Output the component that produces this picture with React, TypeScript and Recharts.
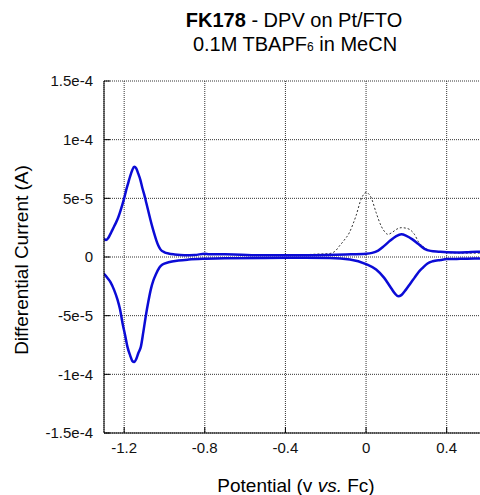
import React from "react";
import { LineChart, Line, XAxis, YAxis, CartesianGrid } from "recharts";

// Forward scan (upper blue trace)
const FWD_X = [-1.3, -1.29, -1.28, -1.27, -1.26, -1.25, -1.24, -1.23, -1.22, -1.21, -1.2, -1.19, -1.18, -1.17, -1.16, -1.15, -1.14, -1.13, -1.12, -1.11, -1.1, -1.09, -1.08, -1.07, -1.06, -1.05, -1.04, -1.03, -1.02, -1.0, -0.98, -0.95, -0.9, -0.85, -0.8, -0.78, -0.7, -0.62, -0.55, -0.4, -0.2, -0.1, 0.0, 0.03, 0.06, 0.09, 0.12, 0.15, 0.175, 0.2, 0.23, 0.26, 0.29, 0.32, 0.36, 0.4, 0.45, 0.5, 0.55, 0.6];
const FWD_Y = [1.55e-5, 1.45e-5, 1.6e-5, 1.9e-5, 2.25e-5, 2.6e-5, 2.95e-5, 3.35e-5, 3.85e-5, 4.4e-5, 5.0e-5, 5.7e-5, 6.3e-5, 6.9e-5, 7.4e-5, 7.7e-5, 7.55e-5, 7.1e-5, 6.6e-5, 5.9e-5, 5.3e-5, 4.6e-5, 3.9e-5, 3.2e-5, 2.55e-5, 1.95e-5, 1.4e-5, 9.5e-6, 6.5e-6, 4.0e-6, 3.0e-6, 2.2e-6, 1.5e-6, 1.7e-6, 2.8e-6, 2.4e-6, 2.3e-6, 2.0e-6, 1.5e-6, 1.4e-6, 1.8e-6, 2.2e-6, 2.8e-6, 3.5e-6, 5.5e-6, 9.5e-6, 1.4e-5, 1.78e-5, 1.93e-5, 1.8e-5, 1.5e-5, 1.1e-5, 7.0e-6, 5.2e-6, 4.5e-6, 4.0e-6, 3.9e-6, 4.1e-6, 4.5e-6, 4.5e-6];

// Reverse scan (lower blue trace)
const REV_X = [-1.31, -1.3, -1.28, -1.266, -1.25, -1.233, -1.22, -1.208, -1.195, -1.184, -1.17, -1.16, -1.15, -1.14, -1.13, -1.117, -1.105, -1.093, -1.08, -1.068, -1.055, -1.043, -1.025, -1.01, -0.98, -0.93, -0.88, -0.8, -0.7, -0.5, -0.3, -0.18, -0.08, 0.0, 0.05, 0.09, 0.124, 0.145, 0.16, 0.175, 0.198, 0.22, 0.24, 0.26, 0.281, 0.305, 0.331, 0.37, 0.4, 0.45, 0.5, 0.6];
const REV_Y = [-1.3e-5, -1.45e-5, -1.85e-5, -2.2e-5, -2.8e-5, -3.64e-5, -4.5e-5, -5.64e-5, -6.7e-5, -7.64e-5, -8.4e-5, -8.85e-5, -8.95e-5, -8.7e-5, -8.2e-5, -7.64e-5, -6.4e-5, -5.07e-5, -3.8e-5, -2.78e-5, -2.0e-5, -1.5e-5, -9.0e-6, -6.4e-6, -4.5e-6, -3.0e-6, -2.2e-6, -1.5e-6, -1.0e-6, -0.8e-6, -0.7e-6, -0.9e-6, -2.1e-6, -6.0e-6, -1.07e-5, -1.78e-5, -2.64e-5, -3.15e-5, -3.35e-5, -3.25e-5, -2.78e-5, -2.25e-5, -1.78e-5, -1.3e-5, -9.2e-6, -5.5e-6, -3.6e-6, -2.5e-6, -1.8e-6, -1.6e-6, -1.4e-6, -1.3e-6];

// Reference scan (black dotted trace)
const REF_X = [-0.4, -0.3, -0.25, -0.18, -0.15, -0.133, -0.11, -0.083, -0.065, -0.05, -0.025, 0.0, 0.025, 0.05, 0.075, 0.095, 0.108, 0.13, 0.15, 0.175, 0.2, 0.216, 0.24, 0.26, 0.29, 0.32, 0.36, 0.4, 0.5, 0.6];
const REF_Y = [1.5e-6, 2.0e-6, 2.4e-6, 3.0e-6, 5.5e-6, 9.2e-6, 1.4e-5, 2.07e-5, 2.8e-5, 3.5e-5, 4.9e-5, 5.5e-5, 5.07e-5, 3.78e-5, 2.64e-5, 2.1e-5, 1.93e-5, 2.1e-5, 2.35e-5, 2.5e-5, 2.45e-5, 2.35e-5, 1.93e-5, 1.3e-5, 7.9e-6, 5.5e-6, 4.5e-6, 3.8e-6, 3.3e-6, 3.3e-6];

const X_TICKS = [-1.2, -0.8, -0.4, 0, 0.4];
const X_TICK_LABELS = ["-1.2", "-0.8", "-0.4", "0", "0.4"];
const Y_TICKS = [-1.5e-4, -1e-4, -5e-5, 0, 5e-5, 1e-4, 1.5e-4];
const Y_TICK_LABELS = ["-1.5e-4", "-1e-4", "-5e-5", "0", "5e-5", "1e-4", "1.5e-4"];

const zip = (xs: number[], ys: number[]) => xs.map((x, i) => ({ x, y: ys[i] }));
const fwd = zip(FWD_X, FWD_Y);
const rev = zip(REV_X, REV_Y);
const ref = zip(REF_X, REF_Y);

const FONT = "'Liberation Sans', Arial, Helvetica, sans-serif";
const BLUE = "#0b0bd6";

export default function App() {
  const tickStyle = { fontSize: 15, fill: "#111", fontFamily: FONT };
  return (
    <div
      style={{
        position: "fixed",
        left: 0,
        top: 0,
        width: 480,
        height: 495,
        overflow: "hidden",
        background: "#fff",
      }}
    >
      <LineChart
        width={508}
        height={495}
        margin={{ top: 81, right: 21, bottom: 32, left: 0 }}
      >
        <CartesianGrid stroke="#333" strokeDasharray="1 1" strokeWidth={1} />
        <XAxis
          type="number"
          dataKey="x"
          domain={[-1.3, 0.6]}
          ticks={X_TICKS}
          allowDataOverflow
          height={30}
          tickSize={-6}
          tickMargin={15}
          stroke="#000"
          tick={tickStyle}
          tickFormatter={(v: number) => X_TICK_LABELS[X_TICKS.indexOf(v)] ?? String(v)}
        />
        <XAxis
          xAxisId="top"
          orientation="top"
          type="number"
          dataKey="x"
          domain={[-1.3, 0.6]}
          ticks={X_TICKS}
          allowDataOverflow
          height={0}
          tickSize={-6}
          stroke="#000"
          tick={false}
        />
        <YAxis
          type="number"
          domain={[-1.5e-4, 1.5e-4]}
          ticks={Y_TICKS}
          allowDataOverflow
          width={104}
          tickSize={-6}
          tickMargin={17}
          stroke="#000"
          tick={tickStyle}
          tickFormatter={(v: number) => Y_TICK_LABELS[Y_TICKS.indexOf(v)] ?? String(v)}
        />
        <Line
          data={ref}
          dataKey="y"
          type="monotone"
          stroke="#333"
          strokeWidth={1}
          strokeDasharray="2 2"
          dot={false}
          isAnimationActive={false}
        />
        <Line
          data={fwd}
          dataKey="y"
          type="monotone"
          stroke={BLUE}
          strokeWidth={2.5}
          dot={false}
          isAnimationActive={false}
        />
        <Line
          data={rev}
          dataKey="y"
          type="monotone"
          stroke={BLUE}
          strokeWidth={2.5}
          dot={false}
          isAnimationActive={false}
        />
      </LineChart>
      <svg
        width={480}
        height={495}
        style={{ position: "absolute", left: 0, top: 0, pointerEvents: "none" }}
        fontFamily={FONT}
      >
        <text x={294} y={27} textAnchor="middle" fontSize={20} fill="#000">
          <tspan fontWeight="bold">FK178</tspan>
          <tspan> - DPV on Pt/FTO</tspan>
        </text>
        <text x={295} y={51} textAnchor="middle" fontSize={20} fill="#000">
          <tspan>0.1M TBAPF</tspan>
          <tspan fontSize={12}>6</tspan>
          <tspan> in MeCN</tspan>
        </text>
        <text
          x={28}
          y={260}
          transform="rotate(-90, 28, 260)"
          textAnchor="middle"
          fontSize={19}
          fill="#000"
        >
          Differential Current (A)
        </text>
        <text x={296} y={492} textAnchor="middle" fontSize={19} fill="#000">
          <tspan>Potential (v </tspan>
          <tspan fontStyle="italic">vs.</tspan>
          <tspan> Fc)</tspan>
        </text>
      </svg>
    </div>
  );
}
